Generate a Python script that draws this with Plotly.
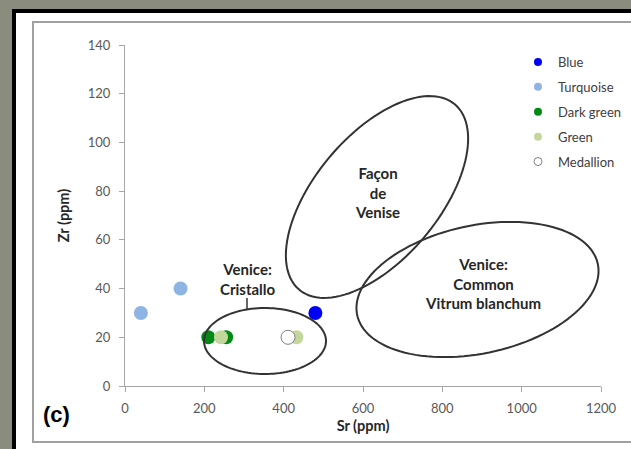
import numpy as np
import plotly.graph_objects as go

# ---------------- data ----------------
series_names = ["Blue", "Turquoise", "Dark green", "Green", "Medallion"]
blue_sr = [480]
blue_zr = [30]
turq_sr = [40, 140]
turq_zr = [30, 40]
dkgreen_sr = [210, 255]
dkgreen_zr = [20, 20]
green_sr = [242, 432]
green_zr = [20, 20]
medal_sr = [411]
medal_zr = [20]
x_ticks = [0, 200, 400, 600, 800, 1000, 1200]
y_ticks = [0, 20, 40, 60, 80, 100, 120, 140]

# ---------------- geometry ----------------
W, H = 631, 449
ML, MR, MT, MB = 125, 30, 45, 63
PW, PH = W - ML - MR, H - MT - MB
XR, YR = (0, 1200), (0, 140)


def px2x(px):
    return XR[0] + (px - ML) / PW * (XR[1] - XR[0])


def py2y(py):
    return YR[0] + (MT + PH - py) / PH * (YR[1] - YR[0])


def pxp(px):
    return (px - ML) / PW


def pyp(py):
    return (MT + PH - py) / PH


def ellipse_path(cx, cy, a, b, ang_deg, n=120):
    t = np.linspace(0, 2 * np.pi, n)
    th = np.deg2rad(ang_deg)
    ex = cx + a * np.cos(t) * np.cos(th) - b * np.sin(t) * np.sin(th)
    ey = cy - (a * np.cos(t) * np.sin(th) + b * np.sin(t) * np.cos(th))
    pts = [f"{px2x(u):.3f},{py2y(v):.3f}" for u, v in zip(ex, ey)]
    return "M " + " L ".join(pts) + " Z"


colors = {
    "Blue": "#0000f5",
    "Turquoise": "#8db4e2",
    "Dark green": "#008a14",
    "Green": "#c3d69b",
    "Medallion": "#ffffff",
}

fig = go.Figure()

series = [
    ("Blue", blue_sr, blue_zr),
    ("Turquoise", turq_sr, turq_zr),
    ("Dark green", dkgreen_sr, dkgreen_zr),
    ("Green", green_sr, green_zr),
    ("Medallion", medal_sr, medal_zr),
]
for name, xs, ys in series:
    line = dict(color="#808080", width=1) if name == "Medallion" else dict(width=0)
    fig.add_trace(go.Scatter(
        x=xs, y=ys, mode="markers", name=name, showlegend=False,
        marker=dict(size=14, color=colors[name], line=line),
        hoverinfo="x+y+name"))

for i, name in enumerate(series_names):
    line = dict(color="#808080", width=1) if name == "Medallion" else dict(width=0)
    fig.add_trace(go.Scatter(
        x=[None], y=[None], mode="markers", name=name, legendgroup=f"g{i}",
        marker=dict(size=8, color=colors[name], line=line)))

shapes = [
    # black frame + white panel + grey inner frame
    dict(type="rect", xref="paper", yref="paper", x0=pxp(12), x1=pxp(700),
         y0=pyp(9), y1=pyp(520), fillcolor="#000000", line=dict(width=0), layer="below"),
    dict(type="rect", xref="paper", yref="paper", x0=pxp(16), x1=pxp(700),
         y0=pyp(13), y1=pyp(520), fillcolor="#ffffff", line=dict(width=0), layer="below"),
    dict(type="rect", xref="paper", yref="paper", x0=pxp(33), x1=pxp(660),
         y0=pyp(22), y1=pyp(442), fillcolor="rgba(0,0,0,0)",
         line=dict(color="#a0a0a0", width=2), layer="below"),
]
ell_line = dict(color="#333333", width=2)
shapes.append(dict(type="path", xref="x", yref="y",
                   path=ellipse_path(265, 341, 61, 33, 0), line=ell_line))
shapes.append(dict(type="path", xref="x", yref="y",
                   path=ellipse_path(377, 197, 121, 62, 50), line=ell_line))
shapes.append(dict(type="path", xref="x", yref="y",
                   path=ellipse_path(477.5, 289.5, 123, 64, 12), line=ell_line))
shapes.append(dict(type="line", xref="x", yref="y", x0=px2x(247), x1=px2x(247),
                   y0=py2y(298), y1=py2y(309), line=dict(color="#333333", width=1.5)))

lab_font = dict(family="Lato", size=15, color="#262626")


def label(px, py, text):
    return dict(x=px2x(px), y=py2y(py), xref="x", yref="y", text=f"<b>{text}</b>",
                showarrow=False, font=lab_font, align="center",
                xanchor="center", yanchor="middle")


annotations = [
    label(248, 279, "Venice:<br>Cristallo"),
    label(377, 192, "Façon<br>de<br>Venise"),
    label(483, 283, "Venice:<br>Common<br>Vitrum blanchum"),
    dict(x=pxp(56), y=pyp(414), xref="paper", yref="paper", text="<b>(c)</b>",
         xanchor="center", yanchor="middle",
         showarrow=False, font=dict(family="Arial", size=22, color="#000000")),
]

axis_common = dict(
    showgrid=False, zeroline=False, showline=True, linecolor="#a6a6a6", linewidth=1,
    ticks="outside", ticklen=5, tickcolor="#a6a6a6", tickwidth=1,
    tickfont=dict(family="Lato", size=13, color="#595959"),
    automargin=False,
)

fig.update_layout(
    width=W, height=H,
    margin=dict(l=ML, r=MR, t=MT, b=MB, pad=0, autoexpand=False),
    paper_bgcolor="#8a8d7e",
    plot_bgcolor="#ffffff",
    shapes=shapes,
    annotations=annotations,
    xaxis=dict(range=list(XR), tickvals=x_ticks, ticklabelstandoff=5,
               title=dict(text="<b>Sr (ppm)</b>", standoff=6,
                          font=dict(family="Lato", size=14.5, color="#262626")),
               **axis_common),
    yaxis=dict(range=list(YR), tickvals=y_ticks, ticklabelstandoff=6,
               title=dict(text="<b>Zr (ppm)</b>", standoff=14,
                          font=dict(family="Lato", size=14.5, color="#262626")),
               **axis_common),
    legend=dict(x=pxp(518), y=pyp(47), xanchor="left", yanchor="top",
                bgcolor="rgba(0,0,0,0)", tracegroupgap=5,
                font=dict(family="Lato", size=13, color="#404040")),
    showlegend=True,
)

fig.write_html("out.html")
